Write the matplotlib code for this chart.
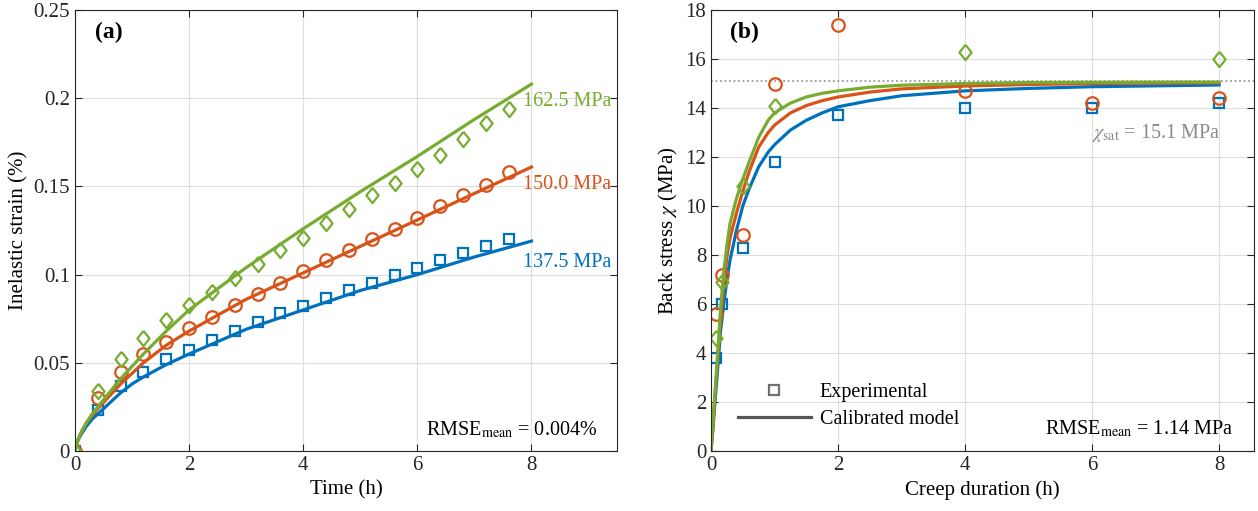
import matplotlib
matplotlib.use("Agg")
import matplotlib.pyplot as plt
import numpy as np
from matplotlib.lines import Line2D

plt.rcParams["font.family"] = ["Liberation Serif", "DejaVu Serif"]
plt.rcParams["mathtext.fontset"] = "stix"
plt.rcParams["font.size"] = 15

blue = "#0072BD"
orange = "#D95319"
green = "#77AC30"

# ---- panel (a): inelastic strain vs time
t_exp = [0, 0.4, 0.8, 1.2, 1.6, 2.0, 2.4, 2.8, 3.2, 3.6, 4.0,
         4.4, 4.8, 5.2, 5.6, 6.0, 6.4, 6.8, 7.2, 7.6]
eps_1375 = [0, 0.023, 0.037, 0.045, 0.052, 0.057, 0.063, 0.068, 0.073, 0.078,
            0.082, 0.087, 0.091, 0.095, 0.100, 0.104, 0.108, 0.112, 0.116, 0.120]
eps_1500 = [0, 0.030, 0.045, 0.055, 0.062, 0.070, 0.076, 0.083, 0.089, 0.095,
            0.102, 0.108, 0.114, 0.120, 0.126, 0.132, 0.139, 0.145, 0.151, 0.158]
eps_1625 = [0, 0.034, 0.052, 0.064, 0.074, 0.083, 0.090, 0.098, 0.106, 0.114,
            0.121, 0.129, 0.137, 0.145, 0.152, 0.160, 0.168, 0.177, 0.186, 0.194]

t_mod = [0, 0.05, 0.1, 0.2, 0.3, 0.4, 0.6, 0.8, 1.0, 1.2, 1.6, 2, 3, 4, 5, 6, 7, 8]
mod_1375 = [0, 0.006, 0.009, 0.014, 0.018, 0.021, 0.027, 0.033, 0.038, 0.042,
            0.049, 0.055, 0.069, 0.080, 0.091, 0.100, 0.110, 0.119]
mod_1500 = [0, 0.006, 0.010, 0.016, 0.020, 0.024, 0.031, 0.038, 0.044, 0.050,
            0.060, 0.068, 0.086, 0.101, 0.116, 0.131, 0.146, 0.161]
mod_1625 = [0, 0.006, 0.010, 0.016, 0.021, 0.025, 0.033, 0.041, 0.048, 0.055,
            0.068, 0.080, 0.104, 0.126, 0.147, 0.167, 0.188, 0.208]

stress_labels = ["137.5 MPa", "150.0 MPa", "162.5 MPa"]
label_y = [0.107, 0.151, 0.198]

# ---- panel (b): back stress vs creep duration
t_b = [0.083, 0.167, 0.5, 1, 2, 4, 6, 8]
chi_1375 = [3.8, 6.0, 8.3, 11.8, 13.7, 14.0, 14.0, 14.2]
chi_1500 = [5.6, 7.2, 8.8, 15.0, 17.4, 14.7, 14.2, 14.4]
chi_1625 = [4.6, 6.9, 10.8, 14.1, np.nan, 16.3, np.nan, 16.0]

t_bmod = [0, 0.03, 0.06, 0.1, 0.15, 0.2, 0.25, 0.3, 0.4, 0.5, 0.6, 0.75, 0.9,
          1, 1.25, 1.5, 1.75, 2, 2.5, 3, 4, 5, 6, 8]
chim_1375 = [0, 0.9, 1.9, 3.2, 4.9, 6.0, 7.0, 7.8, 9.0, 10.0, 10.7, 11.6, 12.2,
             12.5, 13.1, 13.5, 13.8, 14.05, 14.3, 14.5, 14.7, 14.8, 14.87, 14.94]
chim_1500 = [0, 1.0, 2.2, 3.6, 5.4, 6.8, 7.9, 8.7, 9.7, 10.6, 11.4, 12.4, 13.0,
             13.3, 13.8, 14.1, 14.3, 14.45, 14.65, 14.78, 14.9, 14.96, 15.0, 15.03]
chim_1625 = [0, 1.1, 2.3, 3.8, 5.8, 7.3, 8.4, 9.3, 10.3, 11.1, 11.8, 12.8, 13.5,
             13.8, 14.2, 14.45, 14.6, 14.7, 14.85, 14.93, 15.0, 15.04, 15.05, 15.06]
chi_sat = 15.1

diamond = [(0, 1), (0.8, 0), (0, -1), (-0.8, 0), (0, 1)]
mk = dict(mfc="none", mew=1.6, ls="none")


def style(ax):
    ax.grid(True, color="#dedede", lw=0.8)
    ax.set_axisbelow(True)
    ax.tick_params(direction="in", top=True, right=True, length=5,
                   width=0.8, colors="#262626", labelsize=15)
    for s in ax.spines.values():
        s.set_color("#262626")
        s.set_linewidth(0.8)


fig = plt.figure(figsize=(12.58, 5.11), dpi=100)
ax1 = fig.add_axes([0.0596, 0.1174, 0.4309, 0.863])
ax2 = fig.add_axes([0.5652, 0.1174, 0.4316, 0.863])

# (a)
for ym, ye, c, m, ms in [(mod_1375, eps_1375, blue, "s", 7.5),
                         (mod_1500, eps_1500, orange, "o", 9),
                         (mod_1625, eps_1625, green, diamond, 11)]:
    ax1.plot(t_mod, ym, color=c, lw=2.3)
    ax1.plot(t_exp, ye, marker=m, ms=ms, mec=c, **mk)
for lab, y, c in zip(stress_labels, label_y, [blue, orange, green]):
    ax1.text(7.86, y, lab, color=c, fontsize=14.5, va="center", ha="left")
ax1.set_xlim(0, 9.5)
ax1.set_ylim(0, 0.25)
ax1.set_xticks([0, 2, 4, 6, 8])
ax1.set_yticks([0, 0.05, 0.1, 0.15, 0.2, 0.25])
ax1.set_yticklabels(["0", "0.05", "0.1", "0.15", "0.2", "0.25"])
ax1.set_xlabel("Time (h)", fontsize=15)
ax1.set_ylabel("Inelastic strain (%)", fontsize=15)
ax1.text(0.037, 0.95, "(a)", transform=ax1.transAxes, fontsize=17,
         fontweight="bold", va="center")
ax1.text(0.963, 0.048, r"RMSE$_{\rm mean}$ = 0.004%", transform=ax1.transAxes,
         ha="right", va="center", fontsize=14.5)
style(ax1)

# (b)
ax2.axhline(chi_sat, color="#9a9a9a", ls=(0, (1, 1.5)), lw=1.3, zorder=1)
for ym, ye, c, m, ms in [(chim_1375, chi_1375, blue, "s", 7.5),
                         (chim_1500, chi_1500, orange, "o", 9),
                         (chim_1625, chi_1625, green, diamond, 11)]:
    ax2.plot(t_bmod, ym, color=c, lw=2.3)
    ax2.plot(t_b, ye, marker=m, ms=ms, mec=c, **mk)
ax2.set_xlim(0, 8.55)
ax2.set_ylim(0, 18)
ax2.set_xticks([0, 2, 4, 6, 8])
ax2.set_yticks(np.arange(0, 19, 2))
ax2.set_xlabel("Creep duration (h)", fontsize=15)
ax2.set_ylabel(r"Back stress $\chi$ (MPa)", fontsize=15)
ax2.text(0.035, 0.95, "(b)", transform=ax2.transAxes, fontsize=17,
         fontweight="bold", va="center")
ax2.text(0.961, 0.05, r"RMSE$_{\rm mean}$ = 1.14 MPa", transform=ax2.transAxes,
         ha="right", va="center", fontsize=14.5)
ax2.text(8.02, 13.0, r"$\chi_{\rm sat}$ = 15.1 MPa", color="#8a8a8a",
         ha="right", va="center", fontsize=14.5)
handles = [Line2D([], [], marker="s", ms=7.5, mfc="none", mec="#707070", mew=1.6, ls="none"),
           Line2D([], [], color="#555555", lw=2.3)]
ax2.legend(handles, ["Experimental", "Calibrated model"], loc="lower left",
           bbox_to_anchor=(0.05, 0.05), frameon=False, fontsize=14.5,
           handlelength=3.6, handletextpad=0.45, borderpad=0, borderaxespad=0,
           labelspacing=0.4)
style(ax2)

fig.savefig("out.png", dpi=100)
